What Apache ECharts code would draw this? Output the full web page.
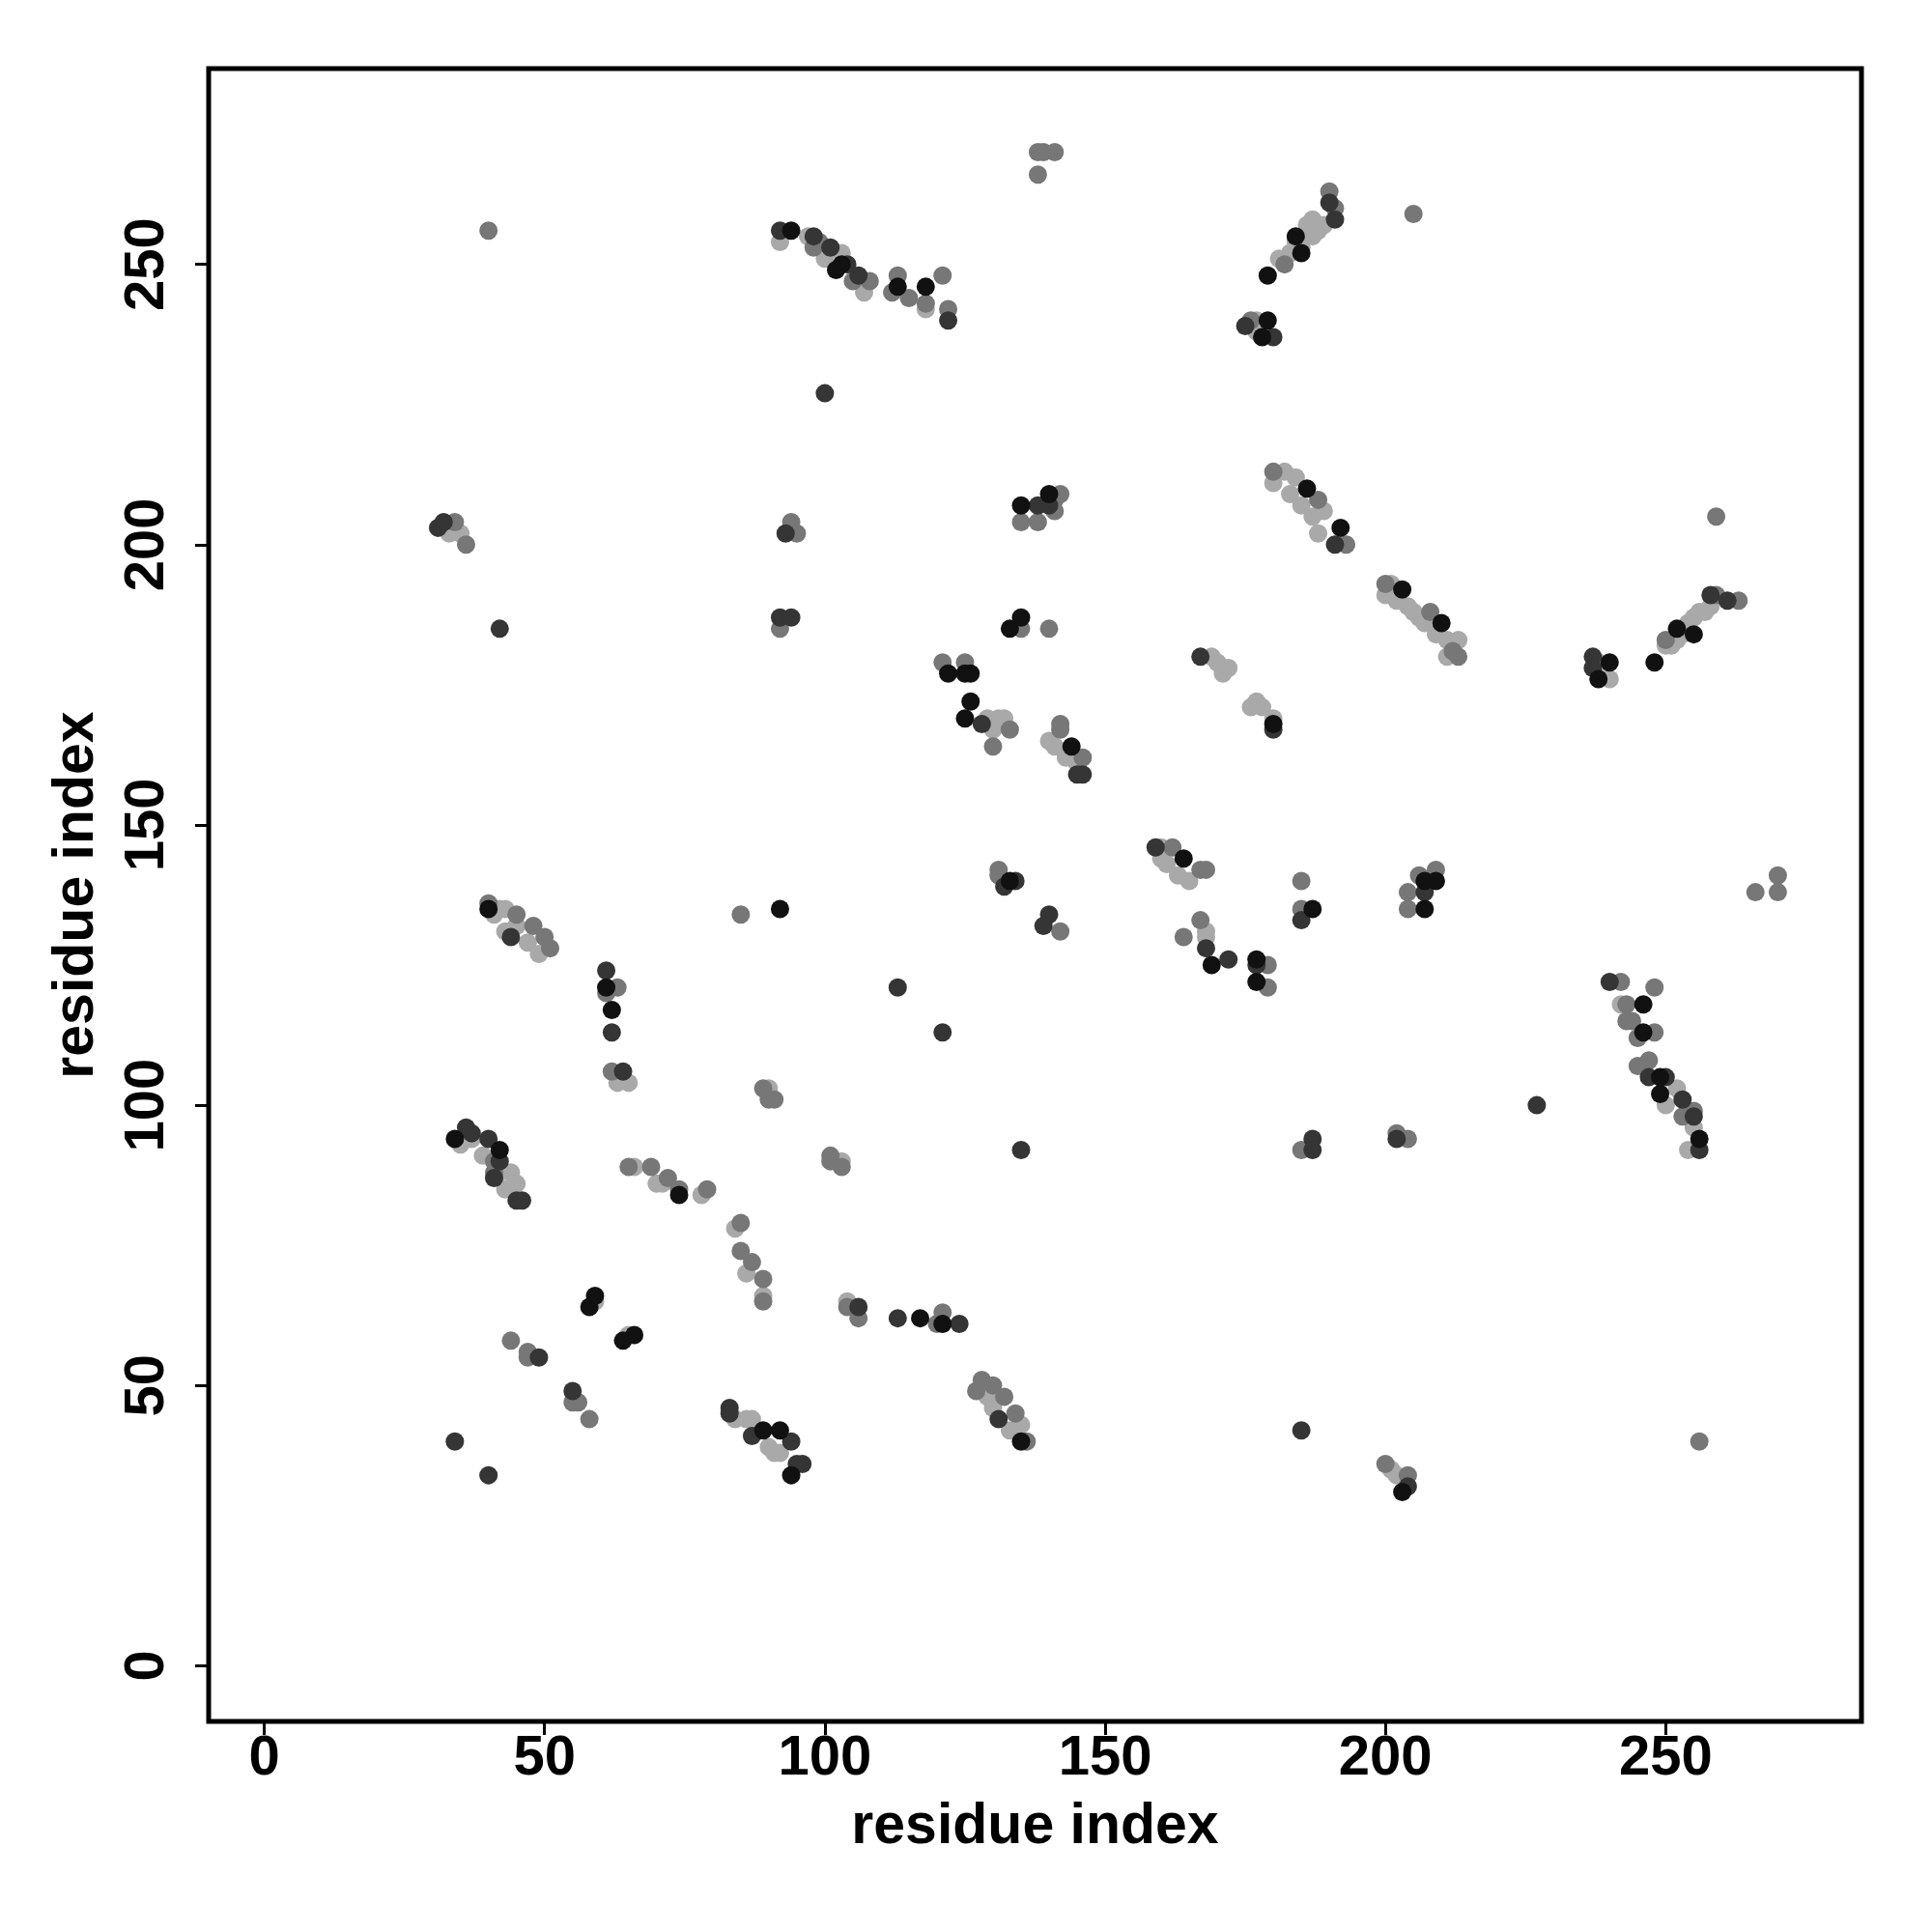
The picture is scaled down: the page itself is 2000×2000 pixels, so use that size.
<!DOCTYPE html>
<html><head><meta charset="utf-8">
<script src="https://cdn.jsdelivr.net/npm/echarts@6/dist/echarts.min.js"></script>
<style>html,body{margin:0;padding:0;background:#fff}#c{width:2000px;height:2000px}</style>
</head><body><div id="c"></div>
<script>
const tickValues = [0, 50, 100, 150, 200, 250];
const axisTitle = 'residue index';

const lightPoints = [[33,202],[35,202],[92,254],[97,255],[100,251],[103,252],[107,245],[118,242],[188,256],[187,255],[186,257],[187,258],[184,254],[183,252],[181,251],[185,253],[189,257],[177,240],[177,238],[182,213],[184,212],[180,211],[183,209],[185,207],[187,205],[189,206],[188,202],[201,193],[200,191],[202,190],[204,189],[205,188],[206,187],[207,186],[209,184],[211,183],[212,182],[213,183],[211,180],[250,182],[251,182],[252,183],[253,184],[254,186],[255,187],[256,188],[257,188],[258,189],[238,178],[238,179],[239,177],[240,176],[42,135],[43,135],[41,134],[43,131],[45,132],[47,129],[49,127],[129,169],[131,169],[132,169],[130,167],[140,165],[141,164],[143,162],[145,161],[169,180],[170,179],[171,178],[172,178],[171,177],[176,171],[177,172],[178,171],[180,169],[160,146],[160,144],[161,143],[163,141],[165,140],[168,131],[168,130],[242,118],[252,103],[250,100],[255,96],[254,92],[63,104],[65,104],[90,103],[90,102],[37,94],[35,93],[39,91],[42,88],[44,88],[45,86],[43,85],[66,89],[70,86],[71,86],[78,84],[84,78],[86,70],[89,66],[59,65],[65,59],[86,44],[87,44],[84,44],[88,42],[90,39],[91,38],[92,38],[103,90],[104,65],[129,48],[130,46],[133,42],[135,43],[201,35],[202,34]];

const midPoints = [[36,200],[34,204],[40,256],[99,254],[98,253],[105,247],[108,247],[113,248],[112,245],[115,244],[118,243],[121,248],[122,242],[138,270],[139,270],[141,270],[138,266],[135,204],[138,204],[142,209],[141,208],[141,206],[94,204],[95,202],[190,263],[191,260],[182,250],[205,259],[259,205],[176,240],[180,213],[188,208],[193,200],[200,193],[208,188],[213,180],[212,181],[250,183],[259,191],[263,190],[40,136],[45,134],[48,132],[50,130],[51,128],[85,134],[63,121],[61,120],[92,185],[121,179],[125,179],[133,167],[130,164],[142,168],[142,167],[146,162],[135,185],[140,185],[131,142],[131,141],[142,131],[162,146],[167,142],[168,142],[185,140],[185,135],[209,142],[206,141],[204,138],[204,135],[167,133],[164,130],[179,125],[179,121],[270,141],[270,138],[266,138],[242,122],[248,121],[243,118],[243,115],[244,115],[248,113],[245,112],[245,107],[247,108],[253,98],[255,99],[256,40],[62,106],[89,103],[90,101],[91,101],[41,90],[41,88],[65,89],[69,89],[72,87],[74,85],[79,85],[85,79],[85,74],[87,72],[89,69],[89,65],[44,58],[47,56],[47,55],[56,47],[55,47],[58,44],[101,91],[101,90],[103,89],[104,64],[106,62],[121,63],[120,61],[128,51],[127,49],[130,50],[132,48],[134,45],[136,40],[185,92],[202,95],[204,94],[200,36],[204,34]];

const darkPoints = [[31,203],[32,204],[92,256],[98,255],[101,253],[104,250],[106,248],[122,240],[100,227],[138,207],[140,207],[93,202],[190,261],[191,258],[175,239],[180,237],[191,200],[258,191],[261,190],[42,185],[44,130],[61,124],[62,113],[92,187],[94,187],[128,168],[145,159],[146,159],[134,140],[132,139],[140,134],[139,132],[113,121],[121,113],[167,180],[180,167],[159,146],[185,133],[207,138],[168,128],[172,126],[177,125],[237,180],[237,178],[240,122],[227,100],[247,105],[250,105],[253,101],[255,98],[256,92],[64,106],[36,96],[37,95],[40,94],[42,90],[41,87],[45,83],[46,83],[49,55],[55,49],[34,40],[40,34],[83,46],[83,45],[87,41],[94,40],[95,36],[96,36],[135,92],[187,94],[187,92],[202,94],[185,42],[204,32],[106,64],[113,62],[124,61],[131,44]];

const blackPoints = [[94,256],[102,249],[103,250],[113,246],[118,246],[135,207],[140,209],[184,255],[185,252],[179,248],[179,240],[178,237],[186,210],[192,203],[203,192],[210,186],[122,177],[125,177],[126,177],[126,172],[125,169],[135,187],[133,185],[144,164],[40,135],[61,121],[62,117],[92,135],[133,140],[164,144],[187,135],[209,140],[207,140],[207,135],[169,125],[177,126],[177,122],[180,168],[248,179],[252,185],[255,184],[240,179],[238,176],[246,118],[246,113],[249,105],[249,102],[256,94],[34,94],[42,92],[59,66],[58,64],[66,59],[64,58],[74,84],[92,42],[94,34],[89,42],[117,62],[121,61],[135,40],[203,31]];

const FONT = '"Liberation Sans", Arial, Helvetica, sans-serif';
const chart = echarts.init(document.getElementById('c'), null, {renderer: 'canvas'});

function mkAxis(isY) {
  return {
    type: 'value', min: -9.92, max: 284.92,
    position: isY ? 'left' : 'bottom',
    name: axisTitle, nameLocation: 'middle', nameGap: isY ? 107 : 80,
    nameRotate: isY ? 90 : 0,
    nameTextStyle: {fontFamily: FONT, fontWeight: 'bold', fontSize: 59, color: '#000'},
    axisLine: {show: false, onZero: false},
    splitLine: {show: false},
    axisTick: {show: true, customValues: tickValues, length: 14, lineStyle: {color: '#000', width: 3}},
    axisLabel: {customValues: tickValues, fontFamily: FONT, fontWeight: 'bold', fontSize: 58, color: '#000',
      margin: isY ? 34 : 10, rotate: isY ? 90 : 0}
  };
}

function mkSeries(name, data, color) {
  return {name, type: 'scatter', data, symbol: 'circle', symbolSize: 19,
    itemStyle: {color, opacity: 1}, emphasis: {disabled: true}};
}

chart.setOption({
  animation: false,
  backgroundColor: '#ffffff',
  grid: {left: 216, right: 73, top: 71, bottom: 218, show: true, borderColor: '#000', borderWidth: 5, backgroundColor: 'transparent'},
  xAxis: mkAxis(false),
  yAxis: mkAxis(true),
  series: [
    mkSeries('light', lightPoints, '#a9a9a9'),
    mkSeries('mid', midPoints, '#777777'),
    mkSeries('dark', darkPoints, '#353535'),
    mkSeries('black', blackPoints, '#111111')
  ]
});
</script></body></html>
